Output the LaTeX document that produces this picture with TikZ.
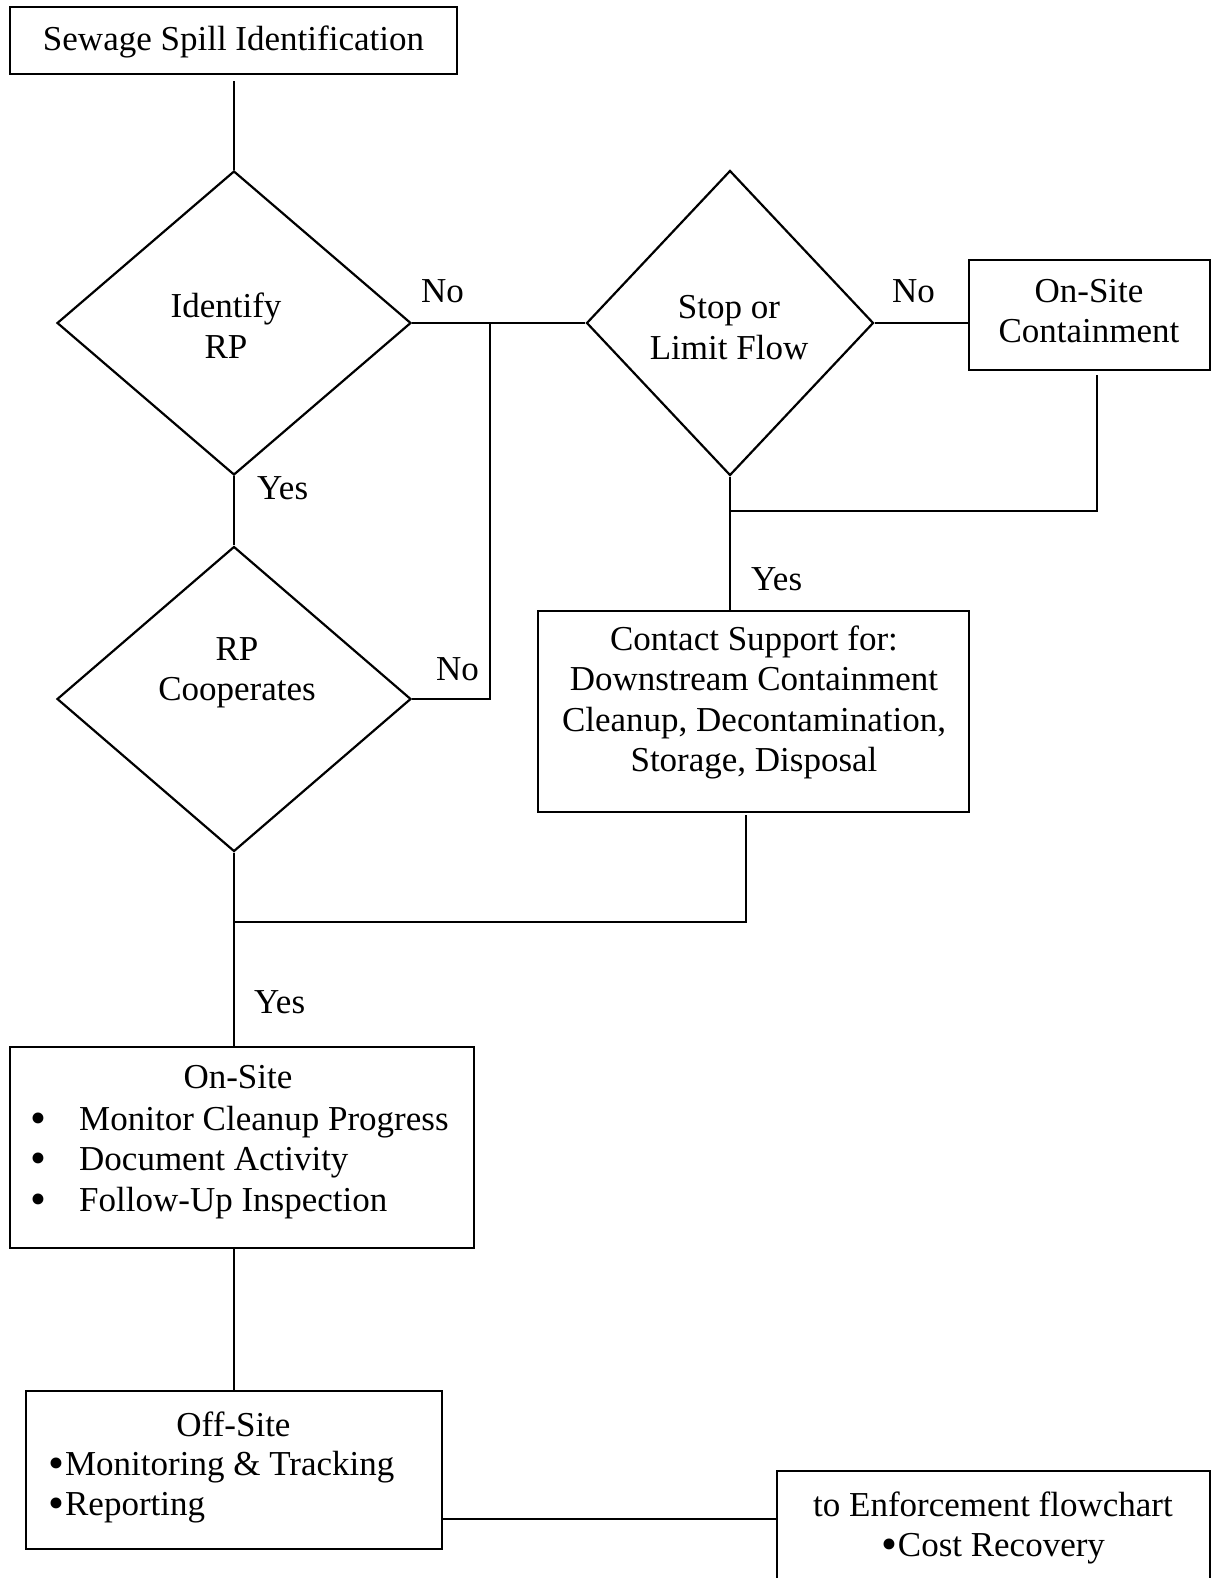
\documentclass[tikz,border=0pt]{standalone}
\usepackage{fontspec}
\setmainfont{Liberation Serif}
\usetikzlibrary{shapes.geometric}
% stacked lines, baseline on the first line
\newcommand{\txtlines}[2][c]{\begin{tabular}[t]{@{}#1@{}}#2\end{tabular}}
% slightly enlarged bullet, kept on the text's middle height
\newcommand{\bigdot}{\raisebox{-3.2pt}[0pt][0pt]{\scalebox{1.3}{•}}}
\begin{document}
\begin{tikzpicture}[x=1pt,y=-1pt,
  every node/.style={font=\fontsize{35}{40.5}\selectfont, inner sep=0pt},
  frame/.style={draw, line width=2.2pt, rectangle, inner sep=0pt},
  decision/.style={draw, line width=2.2pt, diamond, inner sep=0pt},
  conn/.style={line width=2.2pt},
  lbl/.style={anchor=base west, yshift=-3pt},
  txt/.style={anchor=base, yshift=-3pt}]
\useasboundingbox (0,0) rectangle (1213,1578);

% ---- boxes ----
\node[frame, minimum width=447pt, minimum height=67pt] (spill) at (233.5,40.5) {};
\node[frame, minimum width=241pt, minimum height=110pt] (onc) at (1089.5,315) {};
\node[frame, minimum width=431pt, minimum height=201pt] (contact) at (753.5,711.5) {};
\node[frame, minimum width=464pt, minimum height=201pt] (onsite) at (242,1147.5) {};
\node[frame, minimum width=416pt, minimum height=158pt] (offsite) at (234,1470) {};
\node[frame, minimum width=433pt, minimum height=149pt] (enf) at (993.5,1545.5) {};

% ---- decisions ----
\node[decision, minimum width=354pt, minimum height=304pt] (d1) at (234,323) {};
\node[decision, minimum width=287pt, minimum height=305pt] (d2) at (730,323) {};
\node[decision, minimum width=354pt, minimum height=305pt] (d3) at (234,699) {};

% ---- texts ----
\node[txt] (tspill) at (233.5,48) {Sewage Spill Identification};
\node[txt] (td1) at (226,315) {\txtlines{Identify\\RP}};
\node[txt] (td2) at (729,316) {\txtlines{Stop or\\Limit Flow}};
\node[txt] (td3) at (237,657) {\txtlines{RP\\Cooperates}};
\node[txt] (tonc) at (1089,299) {\txtlines{On-Site\\Containment}};
\node[txt] (tcontact) at (754,647) {\txtlines{Contact Support for:\\Downstream Containment\\Cleanup, Decontamination,\\Storage, Disposal}};
\node[txt] (tonsite) at (238,1085) {On-Site};
\node[txt] (bonsite) at (38,1127) {\txtlines{\bigdot\\\bigdot\\\bigdot}};
\node[lbl] (lonsite) at (79,1127) {\txtlines[l]{Monitor Cleanup Progress\\Document Activity\\Follow-Up Inspection}};
\node[txt] (toffsite) at (233.5,1433) {Off-Site};
\node[lbl] (loffsite) at (48,1472) {\txtlines[l]{\bigdot\kern1pt Monitoring \& Tracking\\\bigdot\kern1pt Reporting}};
\node[txt] (tenf) at (993,1513) {\txtlines{to Enforcement flowchart\\\bigdot\kern1pt Cost Recovery}};

% ---- branch labels ----
\node[lbl] (no1) at (421,299) {No};
\node[lbl] (no2) at (892,300) {No};
\node[lbl] (no3) at (436,677) {No};
\node[lbl] (yes1) at (257,496) {Yes};
\node[lbl] (yes2) at (751,587) {Yes};
\node[lbl] (yes3) at (254,1010) {Yes};

% ---- junction points ----
\coordinate (j1) at (490,323);
\coordinate (j2) at (730,511);
\coordinate (j3) at (234,922);
\coordinate (oncout) at (1097,375);
\coordinate (contactout) at (746,815);
\coordinate (offout) at (442,1519);

% ---- connectors ----
\draw[conn, shorten <=6pt] (spill.south -| d1.north) -- (d1.north);
\draw[conn] (d1.east) -- (d2.west);
\draw[conn] (d3.east) -| (j1);
\draw[conn] (d2.east) -- (d2.east -| onc.west);
\draw[conn] (oncout) |- (j2);
\draw[conn] (d2.south) -- (d2.south |- contact.north);
\draw[conn] (contactout) |- (j3);
\draw[conn] (d1.south) -- (d3.north);
\draw[conn] (d3.south) -- (d3.south |- onsite.north);
\draw[conn] (onsite.south -| offsite.north) -- (offsite.north);
\draw[conn] (offout) -- (offout -| enf.west);
\end{tikzpicture}
\end{document}
